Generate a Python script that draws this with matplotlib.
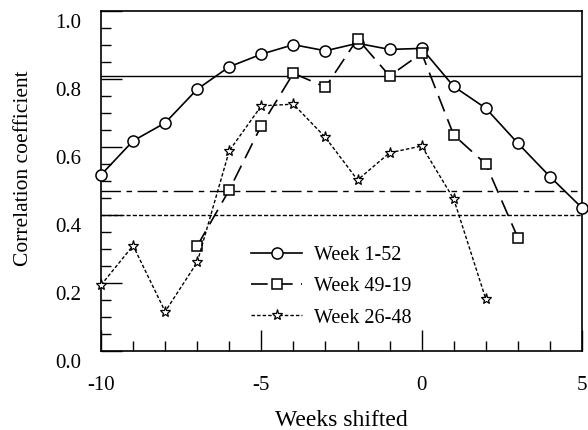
import matplotlib
matplotlib.use("Agg")
import matplotlib.pyplot as plt
import matplotlib.transforms as mtransforms
from matplotlib.ticker import MultipleLocator, FormatStrFormatter

plt.rcParams['font.family'] = ['Liberation Serif', 'DejaVu Serif']
plt.rcParams['axes.unicode_minus'] = False

# Data
weeks_a = [-10, -9, -8, -7, -6, -5, -4, -3, -2, -1, 0, 1, 2, 3, 4, 5]
corr_a = [0.518, 0.618, 0.671, 0.770, 0.836, 0.873, 0.901, 0.883,
          0.905, 0.887, 0.890, 0.778, 0.714, 0.611, 0.513, 0.421]

weeks_b = [-7, -6, -5, -4, -3, -2, -1, 0, 1, 2, 3]
corr_b = [0.309, 0.474, 0.663, 0.817, 0.776, 0.918, 0.809, 0.876,
          0.635, 0.550, 0.333]

weeks_c = [-10, -9, -8, -7, -6, -5, -4, -3, -2, -1, 0, 1, 2]
corr_c = [0.194, 0.310, 0.116, 0.261, 0.589, 0.721, 0.726, 0.628,
          0.503, 0.583, 0.603, 0.447, 0.153]

# significance levels (horizontal reference lines)
level_a = 0.809
level_b = 0.470
level_c = 0.399

fig = plt.figure(figsize=(5.88, 4.30), dpi=100)
ax = fig.add_axes([0.1718, 0.1837, 0.8180, 0.7907])

ax.axhline(level_a, color='black', lw=1.0)
ax.axhline(level_b, color='black', lw=1.0, dashes=(14, 4, 4, 4), xmax=0.99)
ax.axhline(level_c, color='black', lw=1.0, dashes=(3, 1.5))

ax.plot(weeks_a, corr_a, color='black', lw=1.2, marker='o', ms=8,
        mfc='white', mec='black', mew=1.1, label='Week 1-52', clip_on=False, zorder=3)
ax.plot(weeks_b, corr_b, color='black', lw=1.2, dashes=(10, 5), marker='s', ms=7.5,
        mfc='white', mec='black', mew=1.1, label='Week 49-19', clip_on=False, zorder=3)
ax.plot(weeks_c, corr_c, color='black', lw=1.0, dashes=(2.5, 1.5), marker='*', ms=8,
        mfc='white', mec='black', mew=0.9, label='Week 26-48', clip_on=False, zorder=3)

ax.set_xlim(-10, 5)
ax.set_ylim(0, 1.0)
ax.xaxis.set_major_locator(MultipleLocator(5))
ax.xaxis.set_minor_locator(MultipleLocator(1))
ax.yaxis.set_major_locator(MultipleLocator(0.2))
ax.yaxis.set_minor_locator(MultipleLocator(0.05))
ax.yaxis.set_major_formatter(FormatStrFormatter('%.1f'))

ax.tick_params(which='major', direction='in', length=15, width=1.0,
               labelsize=15, top=False, right=False)
ax.tick_params(which='minor', direction='in', length=7.5, width=1.0,
               top=False, right=False)
ax.tick_params(axis='y', which='major', pad=14)
ax.tick_params(axis='x', which='major', pad=18)

# y tick labels sit a bit below their ticks in the original
offset = mtransforms.ScaledTranslation(0, -0.10, fig.dpi_scale_trans)
for lab in ax.get_yticklabels():
    lab.set_transform(lab.get_transform() + offset)

for sp in ax.spines.values():
    sp.set_linewidth(1.2)

ax.set_xlabel('Weeks shifted', fontsize=17, labelpad=11)
ax.set_ylabel('Correlation coefficient', fontsize=15.5)
ax.yaxis.set_label_coords(-0.142, 0.538)

ax.legend(loc='upper left', bbox_to_anchor=(0.275, 0.362), frameon=False,
          fontsize=14.5, handlelength=2.5, labelspacing=0.6, handletextpad=0.6)

fig.savefig('out.png', dpi=100)
